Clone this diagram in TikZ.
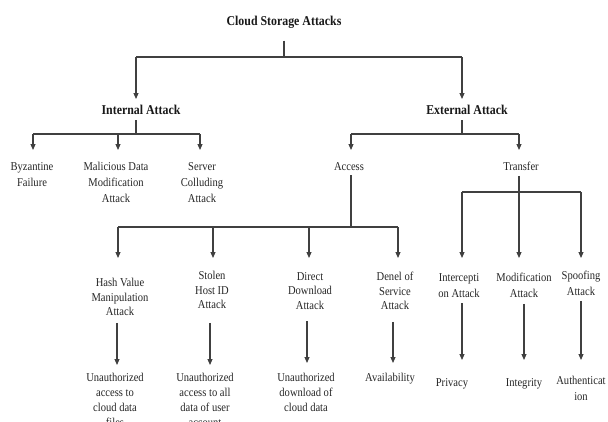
\documentclass[tikz,border=0pt]{standalone}
\usepackage{fontspec}
\setmainfont{Liberation Serif}[FakeStretch=0.88]
\usetikzlibrary{arrows.meta}
\tikzset{
  lbl/.style={align=center, inner sep=0pt, anchor=north, text=black!85, font=\fontsize{12}{16}\selectfont},
  lblf/.style={align=center, inner sep=0pt, anchor=north, text=black!85, font=\fontsize{12}{14.5}\selectfont},
  lblm/.style={align=center, inner sep=0pt, anchor=north, text=black!85, font=\fontsize{12}{15}\selectfont},
  hd/.style={inner sep=0pt, anchor=north, text=black!90, font=\bfseries\fontsize{13.5}{16}\selectfont},
  ln/.style={line width=1.1pt, draw=black!75},
  arr/.style={ln, -{Triangle[width=5pt,length=6pt]}}
}
\begin{document}
\begin{tikzpicture}[x=1pt,y=-1pt]
\useasboundingbox (0,0) rectangle (608,421);
\clip (0,0) rectangle (608,421);
\fill[white] (0,0) rectangle (608,421);

% texts
\node[hd] (title) at (284,16) {Cloud Storage Attacks};
\node[hd] (intl) at (141,104.5) {Internal Attack};
\node[hd] (ext) at (467,104.5) {External Attack};

\node[lbl] (byz) at (32,162) {Byzantine\\Failure};
\node[lbl] (mal) at (116,162) {Malicious Data\\Modification\\Attack};
\node[lbl] (srv) at (202,162) {Server\\Colluding\\Attack};

\node[lbl] (acc) at (349,162) {Access};
\node[lbl] (trf) at (521,162) {Transfer};

\node[lblf] (hash) at (120,278) {Hash Value\\Manipulation\\Attack};
\node[lblf] (stl) at (212,271) {Stolen\\Host ID\\Attack};
\node[lblf] (dir) at (310,272) {Direct\\Download\\Attack};
\node[lblf] (den) at (395,272) {Denel of\\Service\\Attack};
\node[lbl] (icp) at (459,273) {Intercepti\\on Attack};
\node[lbl] (mod) at (524,273) {Modification\\Attack};
\node[lbl] (spf) at (581,271) {Spoofing\\Attack};

\node[lblm] (uh) at (115,373) {Unauthorized\\access to\\cloud data\\files};
\node[lblm] (us) at (205,373) {Unauthorized\\access to all\\data of user\\account};
\node[lblm] (ud) at (306,373) {Unauthorized\\download of\\cloud data};
\node[lbl] (av) at (390,373) {Availability};
\node[lbl] (prv) at (452,378) {Privacy};
\node[lbl] (itg) at (524,378) {Integrity};
\node[lbl] (aut) at (581,376) {Authenticat\\ion};

% level 0 -> 1
\coordinate (j0) at (283,57);
\coordinate (jI) at (136,57);
\coordinate (jE) at (462,57);
\draw[ln, shorten <=12pt] (title.south) -- (title.south |- j0);
\draw[ln] (jI) -- (jE);
\draw[arr, shorten >=5.5pt] (jI) -- (jI |- intl.north);
\draw[arr, shorten >=5.5pt] (jE) -- (jE |- ext.north);

% internal
\coordinate (iJ) at (136,134);
\coordinate (iL) at (33,134);
\coordinate (iM) at (118,134);
\coordinate (iR) at (200,134);
\draw[ln, shorten <=6pt] (intl.south -| iJ) -- (iJ);
\draw[ln] (iL) -- (iR);
\draw[arr, shorten >=12pt] (iL) -- (iL |- byz.north);
\draw[arr, shorten >=12pt] (iM) -- (iM |- mal.north);
\draw[arr, shorten >=12pt] (iR) -- (iR |- srv.north);

% external
\coordinate (eJ) at (462,134);
\coordinate (eL) at (351,134);
\coordinate (eR) at (519,134);
\draw[ln, shorten <=6pt] (ext.south -| eJ) -- (eJ);
\draw[ln] (eL) -- (eR);
\draw[arr, shorten >=12pt] (eL) -- (eL |- acc.north);
\draw[arr, shorten >=12pt] (eR) -- (eR |- trf.north);

% access
\coordinate (aJ) at (351,227);
\coordinate (aL) at (118,227);
\coordinate (aA) at (213,227);
\coordinate (aB) at (309,227);
\coordinate (aR) at (398,227);
\draw[ln, shorten <=5pt] (acc.south -| aJ) -- (aJ);
\draw[ln] (aL) -- (aR);
\draw[arr, shorten >=20pt] (aL) -- (aL |- hash.north);
\draw[arr, shorten >=13pt] (aA) -- (aA |- stl.north);
\draw[arr, shorten >=14pt] (aB) -- (aB |- dir.north);
\draw[arr, shorten >=14pt] (aR) -- (aR |- den.north);

% transfer
\coordinate (tJ) at (519,192);
\coordinate (tL) at (462,192);
\coordinate (tR) at (581,192);
\draw[arr, shorten <=5pt, shorten >=15pt] (trf.south -| tJ) -- (tJ |- mod.north);
\draw[ln] (tL) -- (tR);
\draw[arr, shorten >=15pt] (tL) -- (tL |- icp.north);
\draw[arr, shorten >=13pt] (tR) -- (tR |- spf.north);

% lower arrows
\draw[arr, shorten <=7pt, shorten >=8pt] ([xshift=-3pt]hash.south) -- ([xshift=2pt]uh.north);
\draw[arr, shorten <=14pt, shorten >=8pt] ([xshift=-2pt]stl.south) -- ([xshift=5pt]us.north);
\draw[arr, shorten <=12pt, shorten >=10pt] ([xshift=-3pt]dir.south) -- ([xshift=1pt]ud.north);
\draw[arr, shorten <=12pt, shorten >=10pt] ([xshift=-2pt]den.south) -- ([xshift=3pt]av.north);
\draw[arr, shorten <=6pt, shorten >=18pt] ([xshift=3pt]icp.south) -- ([xshift=10pt]prv.north);
\draw[arr, shorten <=6pt, shorten >=18pt] (mod.south) -- (itg.north);
\draw[arr, shorten <=5pt, shorten >=16pt] (spf.south) -- (aut.north);
\end{tikzpicture}
\end{document}
